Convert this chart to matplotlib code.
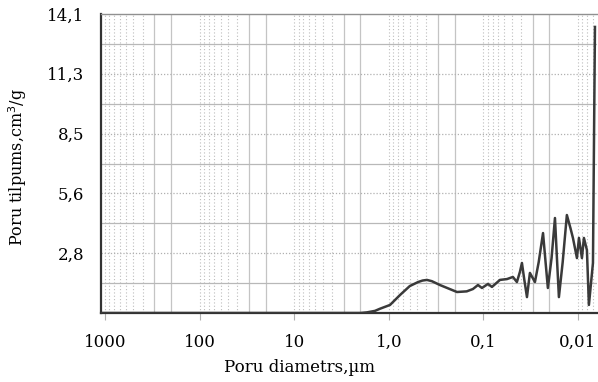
import numpy as np
import matplotlib
matplotlib.use("Agg")
import matplotlib.pyplot as plt
from matplotlib.ticker import FixedLocator, NullFormatter

#%% Dati (nolasīti no attēla)
diam = [1100, 500, 100, 10, 3.0, 2.0, 1.70, 1.40, 1.24, 0.97, 0.76, 0.60, 0.49,
        0.44, 0.395, 0.35, 0.288, 0.190, 0.150, 0.129, 0.114, 0.1035, 0.0894,
        0.0811, 0.0668, 0.0563, 0.0487, 0.0442, 0.041, 0.0391, 0.037, 0.0346,
        0.0322, 0.0285, 0.026, 0.0234, 0.022, 0.0208, 0.019, 0.0175, 0.0166,
        0.0159, 0.0145, 0.0131, 0.0120, 0.0113, 0.01025, 0.00976, 0.00908,
        0.00865, 0.00804, 0.00766, 0.00694, 0.00661]
tilp = [0.0, 0.0, 0.0, 0.0, 0.0, 0.0, 0.03, 0.10, 0.20, 0.38, 0.85, 1.27, 1.46,
        1.53, 1.56, 1.50, 1.32, 0.99, 1.02, 1.13, 1.32, 1.18, 1.37,
        1.23, 1.56, 1.60, 1.70, 1.46, 1.95, 2.36, 1.60, 0.75,
        1.89, 1.46, 2.40, 3.77, 2.40, 1.18, 2.60, 4.48, 2.40,
        0.75, 2.40, 4.62, 4.00, 3.54, 2.59, 3.54, 2.59,
        3.54, 2.97, 0.38, 2.36, 13.49]

x_ticks = [1000, 100, 10, 1, 0.1, 0.01]
x_labels = ['1000', '100', '10', '1,0', '0,1', '0,01']
y_ticks = [2.82, 5.64, 8.46, 11.28, 14.1]
y_labels = ['2,8', '5,6', '8,5', '11,3', '14,1']

#%% Attēls
plt.rcParams['font.family'] = ['DejaVu Serif']
fig = plt.figure(figsize=(5.98, 3.82), dpi=100)
ax = fig.add_axes([101/598, 69/382, 496/598, 299/382])

ax.set_xscale('log')
ax.set_xlim(1102, 0.00629)
ax.set_ylim(0, 14.1)

# režģis
for dec in [1000, 100, 10, 1, 0.1, 0.01, 0.001]:
    for k in range(1, 10):
        v = dec * k
        if k in (2, 3):
            ax.axvline(v, color='#c4c4c4', lw=0.9, zorder=0)
        else:
            ax.axvline(v, color='#bdbdbd', lw=0.8, ls=(0, (1, 2)), zorder=0)
for i in range(1, 10):
    v = 1.41 * i
    if i % 2 == 1:
        ax.axhline(v, color='#b8b8b8', lw=0.9, zorder=0)
    else:
        ax.axhline(v, color='#b0b0b0', lw=0.9, ls=(0, (1, 1.5)), zorder=0)

ax.plot(diam, tilp, color='#3a3a3a', lw=1.8, zorder=3, solid_joinstyle='round')

ax.xaxis.set_major_locator(FixedLocator(x_ticks))
ax.set_xticklabels(x_labels)
ax.xaxis.set_minor_locator(FixedLocator([]))
ax.xaxis.set_minor_formatter(NullFormatter())
ax.set_yticks(y_ticks)
ax.set_yticklabels(y_labels)

ax.tick_params(axis='x', length=5, color='#b0b0b0', pad=10, labelsize=12)
ax.tick_params(axis='y', length=0, pad=12, labelsize=12)

for s in ['left', 'bottom']:
    ax.spines[s].set_color('#333333')
    ax.spines[s].set_linewidth(1.6)
ax.spines['top'].set_color('#909090')
ax.spines['top'].set_linewidth(1.0)
ax.spines['right'].set_visible(False)

ax.set_xlabel('Poru diametrs,\u00b5m', fontsize=12)
ax.xaxis.set_label_coords((300 - 101) / 496, -0.155)
ax.set_ylabel('Poru tilpums,cm$^3$/g', fontsize=11.5)
ax.yaxis.set_label_coords((29 - 101) / 496, 0.49)

plt.savefig('out.png', dpi=100)
